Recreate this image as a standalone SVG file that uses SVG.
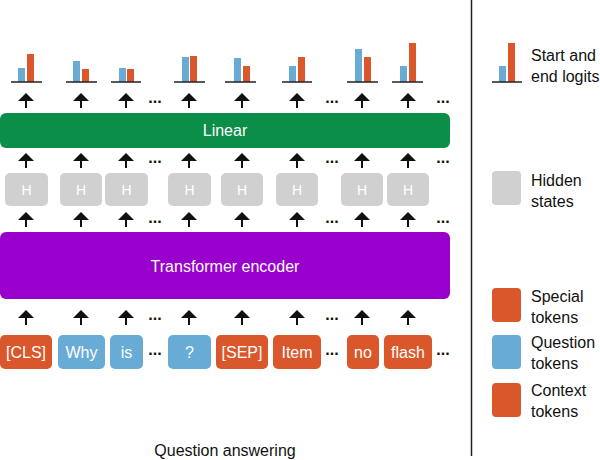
<svg xmlns="http://www.w3.org/2000/svg" width="600" height="460" viewBox="0 0 600 460">
<defs>
<style>
.t{font-family:"Liberation Sans",Arial,sans-serif;font-size:16px;fill:#fff;text-anchor:middle}
.h{font-family:"Liberation Sans",Arial,sans-serif;font-size:14px;fill:#fff;text-anchor:middle}
.lg{font-family:"Liberation Sans",Arial,sans-serif;font-size:16px;fill:#111}
.dots{font-family:"Liberation Sans",Arial,sans-serif;font-size:16px;font-weight:bold;fill:#111;text-anchor:middle}
.or{fill:#d9572b}
.bl{fill:#68acd5}
.gr{fill:#d0d0d0}
.base{stroke:#222;stroke-width:1.5}
</style>
<g id="arrow"><path d="M0,0 L8,8 L1,8 L1,15 L-1,15 L-1,8 L-8,8 Z" fill="#111"/></g>
</defs>

<!-- logits -->
<g id="logits">
<g><rect class="bl" x="18" y="68" width="7" height="14"/><rect class="or" x="27" y="54" width="7" height="28"/><line class="base" x1="11" y1="82" x2="42" y2="82"/></g>
<g><rect class="bl" x="73" y="61" width="7" height="21"/><rect class="or" x="82" y="69" width="7" height="13"/><line class="base" x1="66" y1="82" x2="97" y2="82"/></g>
<g><rect class="bl" x="119" y="68" width="7" height="14"/><rect class="or" x="127" y="69" width="7" height="13"/><line class="base" x1="111" y1="82" x2="141" y2="82"/></g>
<g><rect class="bl" x="182" y="57" width="7" height="25"/><rect class="or" x="190" y="56" width="7" height="26"/><line class="base" x1="174" y1="82" x2="205" y2="82"/></g>
<g><rect class="bl" x="234" y="58" width="7" height="24"/><rect class="or" x="243" y="66" width="7" height="16"/><line class="base" x1="225" y1="82" x2="256" y2="82"/></g>
<g><rect class="bl" x="289" y="66" width="7" height="16"/><rect class="or" x="298" y="57" width="7" height="25"/><line class="base" x1="282" y1="82" x2="312" y2="82"/></g>
<g><rect class="bl" x="355" y="49" width="7" height="33"/><rect class="or" x="364" y="57" width="7" height="25"/><line class="base" x1="347" y1="82" x2="378" y2="82"/></g>
<g><rect class="bl" x="400" y="66" width="7" height="16"/><rect class="or" x="409" y="43" width="7" height="39"/><line class="base" x1="392" y1="82" x2="423" y2="82"/></g>
</g>

<!-- connectors -->
<g id="connectors">
<use href="#arrow" x="26" y="93"/><use href="#arrow" x="81" y="93"/><use href="#arrow" x="126" y="93"/><use href="#arrow" x="189" y="93"/><use href="#arrow" x="242" y="93"/><use href="#arrow" x="297" y="93"/><use href="#arrow" x="362" y="93"/><use href="#arrow" x="408" y="93"/>
<use href="#arrow" x="26" y="153"/><use href="#arrow" x="81" y="153"/><use href="#arrow" x="126" y="153"/><use href="#arrow" x="189" y="153"/><use href="#arrow" x="242" y="153"/><use href="#arrow" x="297" y="153"/><use href="#arrow" x="362" y="153"/><use href="#arrow" x="408" y="153"/>
<use href="#arrow" x="26" y="212"/><use href="#arrow" x="81" y="212"/><use href="#arrow" x="126" y="212"/><use href="#arrow" x="189" y="212"/><use href="#arrow" x="242" y="212"/><use href="#arrow" x="297" y="212"/><use href="#arrow" x="362" y="212"/><use href="#arrow" x="408" y="212"/>
<use href="#arrow" x="26" y="310"/><use href="#arrow" x="81" y="310"/><use href="#arrow" x="126" y="310"/><use href="#arrow" x="189" y="310"/><use href="#arrow" x="242" y="310"/><use href="#arrow" x="297" y="310"/><use href="#arrow" x="362" y="310"/><use href="#arrow" x="408" y="310"/>
<text class="dots" x="155" y="103">...</text><text class="dots" x="332" y="103">...</text><text class="dots" x="443" y="103">...</text>
<text class="dots" x="155" y="163">...</text><text class="dots" x="332" y="163">...</text><text class="dots" x="443" y="163">...</text>
<text class="dots" x="155" y="223">...</text><text class="dots" x="332" y="223">...</text><text class="dots" x="443" y="223">...</text>
<text class="dots" x="155" y="320">...</text><text class="dots" x="332" y="320">...</text>
<text class="dots" x="155" y="355">...</text><text class="dots" x="332" y="355">...</text><text class="dots" x="443" y="355">...</text>
</g>

<g id="linear"><rect x="0" y="113" width="450" height="35" rx="6" fill="#0b8e47"/><text class="t" x="225" y="136">Linear</text></g>

<g id="hidden">
<g><rect class="gr" x="5" y="173" width="43" height="33" rx="5"/><text class="h" x="26.5" y="195">H</text></g>
<g><rect class="gr" x="60" y="173" width="42" height="33" rx="5"/><text class="h" x="81" y="195">H</text></g>
<g><rect class="gr" x="105" y="173" width="43" height="33" rx="5"/><text class="h" x="126.5" y="195">H</text></g>
<g><rect class="gr" x="168" y="173" width="43" height="33" rx="5"/><text class="h" x="189.5" y="195">H</text></g>
<g><rect class="gr" x="221" y="173" width="42" height="33" rx="5"/><text class="h" x="242" y="195">H</text></g>
<g><rect class="gr" x="276" y="173" width="42" height="33" rx="5"/><text class="h" x="297" y="195">H</text></g>
<g><rect class="gr" x="341" y="173" width="42" height="33" rx="5"/><text class="h" x="362" y="195">H</text></g>
<g><rect class="gr" x="387" y="173" width="42" height="33" rx="5"/><text class="h" x="408" y="195">H</text></g>
</g>

<g id="encoder"><rect x="0" y="232" width="450" height="67" rx="6" fill="#9900cc"/><text class="t" x="225" y="272">Transformer encoder</text></g>

<g id="tokens">
<g id="tok-cls"><rect class="or" x="0" y="335" width="52" height="34" rx="5"/><text class="t" x="26" y="358">[CLS]</text></g>
<g id="tok-why"><rect class="bl" x="58" y="335" width="47" height="34" rx="5"/><text class="t" x="81.5" y="358">Why</text></g>
<g id="tok-is"><rect class="bl" x="110" y="335" width="33" height="34" rx="5"/><text class="t" x="126.5" y="358">is</text></g>
<g id="tok-q"><rect class="bl" x="168" y="335" width="43" height="34" rx="5"/><text class="t" x="189.5" y="358">?</text></g>
<g id="tok-sep"><rect class="or" x="216" y="335" width="52" height="34" rx="5"/><text class="t" x="242" y="358">[SEP]</text></g>
<g id="tok-item"><rect class="or" x="273" y="335" width="48" height="34" rx="5"/><text class="t" x="297" y="358">Item</text></g>
<g id="tok-no"><rect class="or" x="347" y="335" width="32" height="34" rx="5"/><text class="t" x="363" y="358">no</text></g>
<g id="tok-flash"><rect class="or" x="384" y="335" width="48" height="34" rx="5"/><text class="t" x="408" y="358">flash</text></g>
</g>

<g id="title"><text class="lg" x="225" y="456" text-anchor="middle">Question answering</text></g>

<line x1="471.5" y1="0" x2="471.5" y2="456" stroke="#222" stroke-width="1.5"/>

<g id="legend">
<g id="lg-logits"><rect class="bl" x="499" y="66" width="7" height="16"/><rect class="or" x="508" y="43" width="7" height="39"/><line class="base" x1="492" y1="82" x2="522" y2="82"/><text class="lg" x="531" y="61">Start and</text><text class="lg" x="531" y="82">end logits</text></g>
<g id="lg-hidden"><rect class="gr" x="492" y="171" width="29" height="34" rx="4"/><text class="lg" x="531" y="186">Hidden</text><text class="lg" x="531" y="207">states</text></g>
<g id="lg-special"><rect class="or" x="492" y="288" width="29" height="34" rx="4"/><text class="lg" x="531" y="302">Special</text><text class="lg" x="531" y="323">tokens</text></g>
<g id="lg-question"><rect class="bl" x="492" y="335" width="29" height="34" rx="4"/><text class="lg" x="531" y="348">Question</text><text class="lg" x="531" y="369">tokens</text></g>
<g id="lg-context"><rect class="or" x="492" y="383" width="29" height="34" rx="4"/><text class="lg" x="531" y="396">Context</text><text class="lg" x="531" y="417">tokens</text></g>
</g>
</svg>
